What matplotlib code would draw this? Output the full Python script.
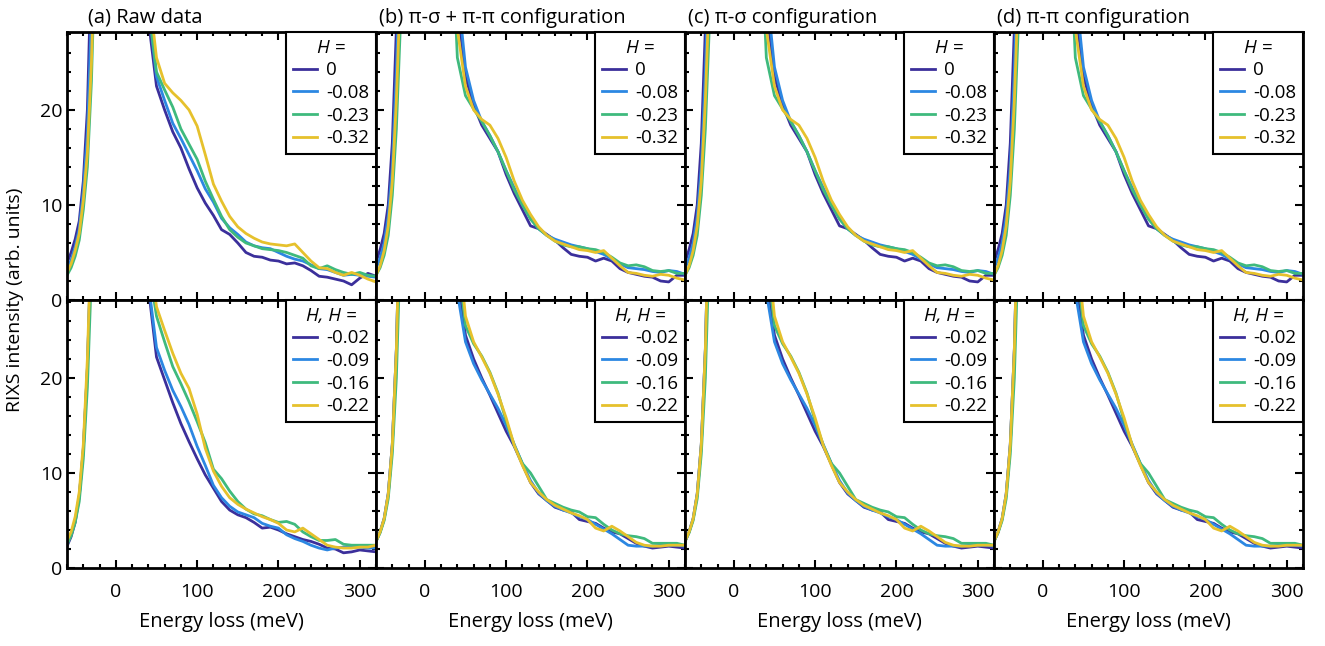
import matplotlib
matplotlib.use("Agg")
import matplotlib.pyplot as plt
from matplotlib.ticker import MultipleLocator

plt.rcParams['font.family'] = ['Open Sans', 'DejaVu Sans']

# energy grid (meV); the elastic peak itself runs far off scale
energy = [-60, -55, -50, -45, -40, -35, -30, -25, -20, 0, 20, 30,
          40, 50, 60, 70, 80, 90, 100, 110, 120, 130, 140, 150, 160, 170,
          180, 190, 200, 210, 220, 230, 240, 250, 260, 270, 280, 290, 300,
          310, 320]

# (a) raw data, top row: H = 0, -0.08, -0.23, -0.32
raw_top_1 = [3.9, 5.0, 6.4, 8.3, 12.5, 20, 36, 55, 80, 250, 90, 50,
             29.5, 22.5, 20.0, 17.7, 16.0, 13.8, 11.8, 10.2, 8.9, 7.4, 6.9, 6.0, 5.0, 4.6,
             4.5, 4.2, 4.1, 3.8, 3.9, 3.6, 3.1, 2.5, 2.4, 2.2, 2.0, 1.6, 2.3, 2.8, 2.5]
raw_top_2 = [3.2, 4.2, 5.6, 7.5, 11.5, 17.5, 30, 50, 80, 250, 90, 50,
             31, 23.5, 21.0, 18.6, 17.0, 15.3, 13.6, 11.7, 10.3, 8.6, 7.6, 6.9, 6.1, 5.7,
             5.5, 5.4, 5.0, 4.6, 4.3, 4.1, 3.7, 3.3, 3.2, 2.9, 2.6, 2.7, 2.6, 2.5, 2.4]
raw_top_3 = [2.6, 3.4, 4.6, 6.3, 9.5, 14, 23, 38, 70, 250, 90, 50,
             31, 24.0, 22.1, 20.3, 18.0, 16.4, 14.8, 12.5, 10.6, 8.8, 7.4, 6.6, 6.0, 5.7,
             5.4, 5.3, 5.2, 5.0, 4.7, 4.4, 3.6, 3.3, 3.6, 3.2, 2.9, 2.7, 2.9, 2.6, 2.5]
raw_top_4 = [2.9, 3.8, 5.2, 7.0, 10.5, 15.5, 25, 40, 75, 250, 90, 52,
             33, 25.5, 22.8, 21.8, 21.0, 20.0, 18.3, 15.3, 12.2, 10.4, 8.8, 7.7, 7.0, 6.5,
             6.1, 5.9, 5.8, 5.7, 5.9, 5.0, 4.1, 3.4, 3.3, 2.9, 2.6, 2.9, 2.6, 2.2, 1.9]

# (a) raw data, bottom row: H, H = -0.02, -0.09, -0.16, -0.22
raw_bot_1 = [2.3, 3.3, 4.8, 7.5, 12.5, 21, 35, 55, 80, 250, 90, 50,
             29.5, 22.2, 19.8, 17.4, 15.2, 13.3, 11.5, 9.8, 8.4, 7.0, 6.1, 5.6, 5.3, 4.8,
             4.2, 4.3, 4.0, 3.6, 3.3, 3.0, 2.8, 2.5, 2.1, 2.0, 1.6, 1.7, 1.9, 1.8, 1.7]
raw_bot_2 = [2.5, 3.5, 5.0, 7.6, 12.5, 21, 35, 55, 80, 250, 90, 50,
             30, 23.2, 20.8, 18.7, 17.0, 15.1, 12.8, 10.8, 8.7, 7.4, 6.5, 5.9, 5.6, 5.3,
             4.7, 4.4, 4.2, 3.5, 3.1, 2.8, 2.4, 2.1, 1.9, 2.1, 2.2, 2.2, 2.2, 2.1, 2.1]
raw_bot_3 = [2.5, 3.4, 4.8, 7.0, 11.5, 19, 31, 50, 80, 250, 90, 50,
             32, 26.5, 23.8, 21.2, 19.4, 17.5, 15.4, 13.2, 10.4, 9.4, 8.1, 7.0, 6.2, 5.7,
             5.5, 5.1, 4.8, 4.9, 4.6, 3.8, 3.3, 2.9, 2.9, 3.0, 2.5, 2.4, 2.4, 2.4, 2.4]
raw_bot_4 = [2.9, 3.8, 5.4, 8.0, 13, 22, 36, 55, 80, 250, 90, 52,
             34, 27.5, 25.0, 22.6, 20.5, 18.9, 16.2, 12.6, 10.2, 8.6, 7.4, 6.7, 6.2, 5.8,
             5.4, 5.1, 4.7, 4.0, 3.8, 4.2, 3.6, 3.0, 2.4, 2.2, 2.1, 2.1, 2.2, 2.2, 2.4]

# (b)-(d) configuration-corrected spectra, top row
cfg_top_1 = [4.0, 5.3, 7.0, 10.0, 16.5, 28.5, 45, 65, 90, 250, 90, 50,
             31, 23.5, 20.5, 18.4, 17.0, 15.6, 13.2, 11.2, 9.5, 7.8, 7.5, 6.9, 6.3, 5.5,
             4.8, 4.6, 4.5, 4.1, 4.4, 4.1, 3.3, 2.9, 2.7, 2.5, 2.4, 2.0, 1.9, 2.6, 2.6]
cfg_top_2 = [3.3, 4.4, 6.0, 8.8, 14, 24, 38, 60, 90, 250, 90, 50,
             33, 24.5, 21.0, 18.8, 17.3, 15.6, 13.6, 11.8, 10.0, 8.6, 7.5, 6.8, 6.4, 6.1,
             5.8, 5.6, 5.4, 5.1, 4.8, 4.3, 3.8, 3.4, 3.3, 3.2, 3.0, 2.9, 3.1, 3.0, 2.7]
cfg_top_3 = [2.6, 3.4, 4.7, 6.8, 11, 18, 29, 50, 80, 250, 90, 45,
             25.5, 21.5, 20.1, 18.8, 17.3, 15.6, 13.6, 11.6, 10.0, 8.5, 7.5, 6.8, 6.2, 5.8,
             5.6, 5.6, 5.4, 5.3, 5.0, 4.5, 3.9, 3.6, 3.7, 3.5, 3.1, 3.0, 3.1, 2.8, 2.8]
cfg_top_4 = [2.6, 3.6, 5.2, 7.8, 12.5, 21, 33, 55, 85, 250, 90, 45,
             28.5, 22.5, 20.0, 19.0, 18.4, 17.0, 15.0, 12.5, 10.5, 9.0, 7.7, 6.8, 6.2, 5.9,
             5.6, 5.3, 5.2, 5.0, 5.2, 4.4, 3.6, 2.9, 2.8, 2.6, 2.5, 2.7, 2.6, 2.3, 2.1]

# (b)-(d) configuration-corrected spectra, bottom row
cfg_bot_1 = [2.8, 3.8, 5.2, 7.8, 13, 23, 40, 60, 90, 250, 90, 50,
             31, 24.5, 22.0, 20.0, 18.2, 16.3, 14.4, 12.8, 10.9, 9.0, 7.8, 7.1, 6.4, 6.1,
             5.9, 5.1, 4.9, 4.7, 4.2, 3.8, 3.6, 3.1, 2.6, 2.3, 2.1, 2.2, 2.3, 2.2, 2.1]
cfg_bot_2 = [2.8, 3.8, 5.2, 7.8, 13, 23, 40, 60, 90, 250, 90, 50,
             29, 23.8, 21.5, 19.8, 18.3, 16.8, 15.0, 13.0, 11.0, 9.2, 7.9, 7.1, 6.5, 6.1,
             5.8, 5.4, 5.1, 4.6, 4.1, 3.6, 3.0, 2.4, 2.3, 2.3, 2.3, 2.4, 2.4, 2.4, 2.3]
cfg_bot_3 = [2.8, 3.7, 5.0, 7.3, 12, 20, 34, 55, 85, 250, 90, 52,
             33, 25.5, 23.6, 22.3, 20.6, 18.4, 15.5, 12.9, 11.0, 10.0, 8.6, 7.2, 6.8, 6.4,
             6.1, 5.9, 5.4, 5.3, 4.6, 4.0, 3.6, 3.4, 3.3, 3.1, 2.6, 2.6, 2.6, 2.6, 2.4]
cfg_bot_4 = [2.8, 3.8, 5.2, 7.8, 13, 23, 40, 60, 90, 250, 90, 52,
             35, 26.5, 23.8, 22.2, 20.5, 18.3, 15.8, 12.9, 10.8, 9.0, 8.0, 7.2, 6.6, 6.2,
             5.8, 5.5, 5.1, 4.2, 3.9, 4.4, 3.9, 3.3, 2.7, 2.4, 2.3, 2.3, 2.4, 2.4, 2.4]

top_labels = ['0', '-0.08', '-0.23', '-0.32']
bot_labels = ['-0.02', '-0.09', '-0.16', '-0.22']
titles = ['(a) Raw data', '(b) π-σ + π-π configuration',
          '(c) π-σ configuration', '(d) π-π configuration']
colors = ['#3b2f9b', '#2c87e2', '#3fba7d', '#e6c12c']

top_sets = [[raw_top_1, raw_top_2, raw_top_3, raw_top_4]] + \
           [[cfg_top_1, cfg_top_2, cfg_top_3, cfg_top_4]] * 3
bot_sets = [[raw_bot_1, raw_bot_2, raw_bot_3, raw_bot_4]] + \
           [[cfg_bot_1, cfg_bot_2, cfg_bot_3, cfg_bot_4]] * 3

fig, axes = plt.subplots(2, 4, figsize=(13.25, 6.46), dpi=100, sharex=True, sharey=True)
fig.subplots_adjust(left=0.0506, right=0.9834, top=0.9505, bottom=0.1207,
                    wspace=0, hspace=0)

for row, (sets, labels, ltitle) in enumerate([(top_sets, top_labels, 'H ='),
                                               (bot_sets, bot_labels, 'H, H =')]):
    for col in range(4):
        ax = axes[row, col]
        for y, lab, c in zip(sets[col], labels, colors):
            ax.plot(energy, y, color=c, lw=2, label=lab)
        ax.set_xlim(-60, 320)
        ax.set_ylim(0, 28.2)
        ax.xaxis.set_major_locator(MultipleLocator(100))
        ax.xaxis.set_minor_locator(MultipleLocator(20))
        ax.yaxis.set_major_locator(MultipleLocator(10))
        ax.yaxis.set_minor_locator(MultipleLocator(2))
        ax.tick_params(which='both', direction='in', top=True, right=True,
                       width=1.5, labelsize=14)
        ax.tick_params(which='major', length=6)
        ax.tick_params(which='minor', length=3)
        ax.tick_params(axis='x', pad=11)
        for s in ax.spines.values():
            s.set_linewidth(2)
        leg = ax.legend(title=ltitle, loc='upper right', borderaxespad=0,
                        fancybox=False, edgecolor='black', framealpha=1,
                        fontsize=13.5, title_fontsize=13.5, handlelength=1.3,
                        handletextpad=0.5, labelspacing=0.25, borderpad=0.35)
        leg.get_frame().set_linewidth(1.5)
        leg.get_title().set_fontstyle('italic')
        if row == 0:
            dx = 0.068 if col == 0 else 0.01
            ax.text(dx, 1.015, titles[col], transform=ax.transAxes,
                    ha='left', va='bottom', fontsize=14.5)
        else:
            ax.set_xlabel('Energy loss (meV)', fontsize=14.5, labelpad=8)

fig.text(0.0113, 0.5356, 'RIXS intensity (arb. units)', rotation=90,
         ha='center', va='center', fontsize=14)

fig.savefig('out.png', dpi=100)
